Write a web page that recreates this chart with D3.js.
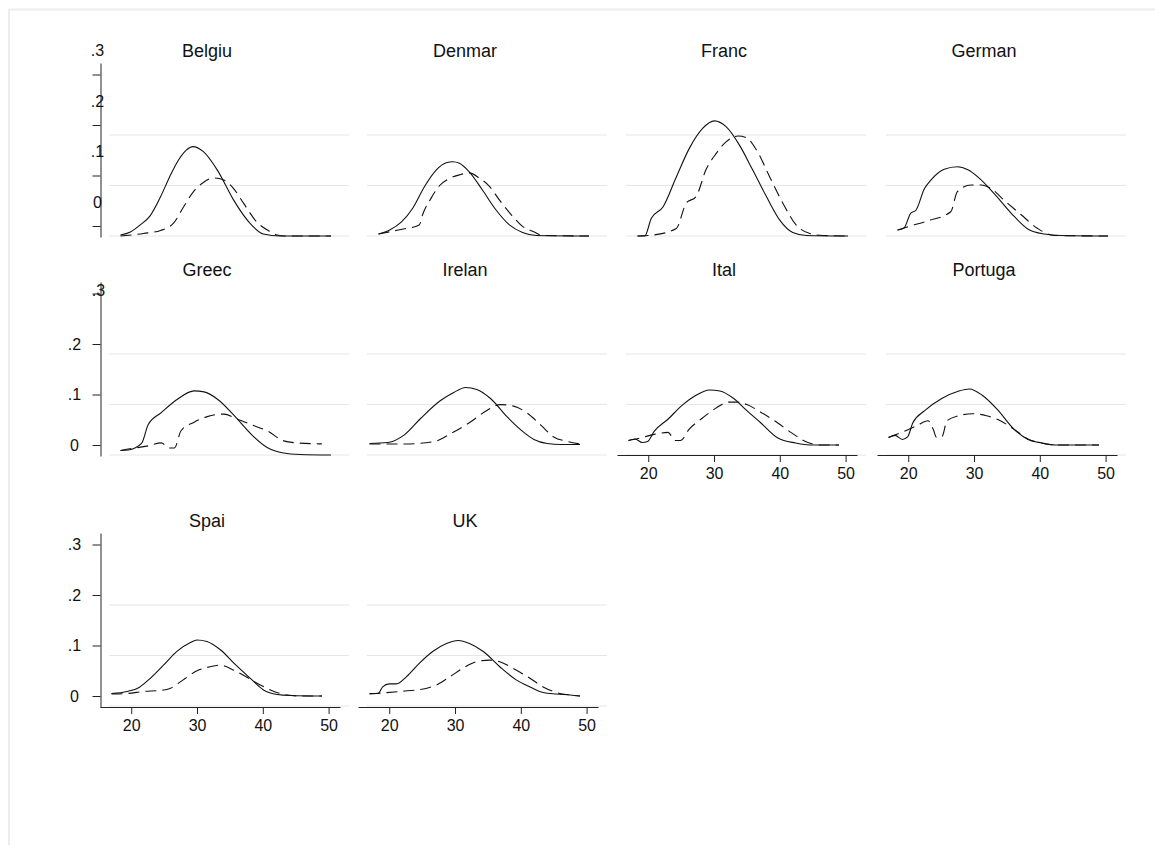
<!DOCTYPE html>
<html>
<head>
<meta charset="utf-8">
<script src="https://cdn.jsdelivr.net/npm/d3@7"></script>
<style>
  body { margin: 0; background: #fff; }
  svg { display: block; }
  text { font-family: "Liberation Sans", Arial, sans-serif; fill: #111; }
</style>
</head>
<body>
<svg id="chart"></svg>
<script>
// panel titles (as printed, truncated)
const titles = ["Belgiu", "Denmar", "Franc", "German", "Greec", "Irelan", "Ital", "Portuga", "Spai", "UK"];
const xTickValues = [20, 30, 40, 50];
const yTickValues = [0, 0.1, 0.2, 0.3];
const gridValues = [0, 0.1, 0.2];

// density curves: [age, density]
const beSolid = [[17,.002],[18.5,.008],[20,.022],[21.5,.04],[23.1,.078],[24.5,.118],[25.8,.15],[27,.17],[28,.177],[29.6,.167],[31.7,.131],[34.2,.071],[36.7,.025],[38.7,.004],[41.3,0],[49,0]];
const beDashed = [[17,0],[20.5,.005],[23.1,.011],[25.1,.026],[26.6,.058],[28.1,.088],[29.6,.106],[31.2,.115],[32.7,.111],[34.2,.094],[35.7,.065],[37.7,.028],[39.7,.009],[40.8,.002],[42,0],[49,0]];
const dkSolid = [[17,.004],[18.7,.012],[20.5,.028],[22.2,.055],[24,.098],[25.8,.131],[27.3,.145],[28.3,.147],[29.3,.144],[30.8,.127],[32.8,.091],[34.9,.051],[36.9,.022],[38.9,.007],[41,.001],[49,0]];
const dkDashed = [[17,.004],[20,.012],[23.2,.022],[23.7,.042],[25,.075],[26.3,.1],[27.8,.114],[29.3,.121],[30.8,.125],[32.4,.114],[33.9,.098],[35.4,.071],[37,.045],[39,.018],[40.5,.009],[42,.001],[49,0]];
const frSolid = [[17,0],[18.1,0],[19.1,.035],[20.9,.058],[22.9,.117],[24.9,.174],[26.9,.213],[28.7,.228],[30.5,.216],[32.5,.18],[34.5,.131],[36.6,.078],[38.6,.032],[40.6,.007],[42.7,.001],[49,0]];
const frDashed = [[17,0],[19.4,.002],[22.9,.015],[24.4,.065],[25.9,.078],[27.4,.131],[29,.164],[30.5,.187],[32.3,.198],[33.5,.195],[35.1,.17],[37.1,.117],[39.1,.065],[41.1,.022],[43.2,.005],[45.2,.001],[49,0]];
const deSolid = [[17,.012],[18,.016],[19,.045],[19.8,.051],[21.1,.094],[22.1,.111],[24.1,.132],[26.1,.137],[27.7,.131],[29.2,.117],[31.7,.084],[34.3,.045],[36.8,.014],[39.3,.004],[41.9,.001],[49,0]];
const deDashed = [[17,.012],[19,.02],[21.6,.03],[25.1,.048],[26.1,.088],[28.2,.101],[29.7,.101],[31.2,.094],[33.2,.071],[35.8,.042],[38.3,.015],[40.8,.001],[49,0]];
const grSolid = [[17,.009],[18.2,.01],[20.2,.023],[21.2,.06],[23.2,.084],[25.7,.111],[28.2,.127],[29.7,.125],[31.7,.111],[34.3,.078],[36.8,.042],[39.3,.015],[41.8,.004],[44.3,.001],[49,0]];
const grDashed = [[17,.009],[18.2,.012],[21.2,.018],[23.2,.024],[24.4,.014],[25.2,.014],[26.2,.048],[28.2,.065],[30.2,.076],[32.7,.081],[34.8,.071],[37.3,.058],[39.3,.048],[41.8,.028],[43.8,.024],[47.6,.022]];
const ieSolid = [[17,.003],[19.8,.005],[22.3,.02],[24.8,.053],[27.8,.088],[29.8,.104],[31.6,.114],[33.3,.11],[35.4,.092],[37.9,.056],[40,.03],[42,.011],[44,.003],[46.1,.001],[49,.001]];
const ieDashed = [[17,.002],[22.3,.002],[26.9,.007],[29.4,.023],[32.4,.046],[34.9,.069],[36.9,.08],[38.9,.077],[41,.063],[43,.04],[45,.016],[47.1,.007],[49,.002]];
const itSolid = [[17,.009],[18,.012],[19.1,.005],[19.9,.007],[20.9,.027],[23,.051],[25.1,.078],[27.2,.098],[29.3,.109],[30.9,.107],[33,.092],[35,.068],[37.1,.044],[39.7,.014],[42.4,.004],[45,0],[49,0]];
const itDashed = [[17,.009],[18.8,.014],[20.9,.021],[23,.025],[24.1,.009],[24.9,.009],[26.2,.031],[28.3,.054],[30.3,.073],[32.2,.085],[33.5,.085],[35,.08],[37.1,.065],[39.2,.048],[41.8,.024],[43.9,.007],[46,0],[49,0]];
const ptSolid = [[17,.015],[18,.019],[19.1,.011],[19.9,.016],[20.7,.044],[22.5,.068],[25.1,.092],[27.7,.107],[29.3,.111],[31.3,.098],[33.5,.071],[36.1,.031],[38.2,.011],[40.3,.004],[42.4,0],[49,0]];
const ptDashed = [[17,.015],[19.4,.027],[21.4,.039],[23,.048],[23.8,.031],[24.3,.015],[25.1,.016],[25.9,.048],[27.7,.058],[29.8,.062],[31.9,.058],[34,.048],[36.1,.031],[38.2,.012],[40.3,.004],[42.4,0],[49,0]];
const esSolid = [[17,.005],[19.4,.009],[21.2,.017],[22.9,.035],[24.9,.061],[26.9,.088],[29,.106],[30,.111],[31.5,.108],[33.6,.091],[35.6,.065],[38.1,.035],[40.1,.012],[42.2,.003],[44.2,.001],[49,0]];
const esDashed = [[17,.004],[19.4,.005],[21.9,.009],[24.4,.011],[25.9,.015],[27.9,.032],[30,.05],[32,.058],[33.5,.061],[35.6,.051],[37.6,.037],[39.6,.022],[41.7,.009],[43.7,.002],[45.7,0],[49,0]];
const ukSolid = [[17,.005],[18.3,.005],[19,.018],[20,.024],[21.1,.024],[22.6,.038],[24.6,.065],[26.6,.088],[28.7,.104],[30.5,.11],[32.2,.104],[34.3,.088],[36.8,.058],[39.3,.032],[41.4,.018],[43.4,.007],[45.4,.004],[47.5,.002],[49,0]];
const ukDashed = [[17,.004],[21.6,.009],[25.6,.015],[27.2,.022],[29.2,.038],[31.2,.055],[33.3,.068],[35.3,.071],[36.8,.068],[38.8,.055],[41.4,.035],[43.4,.018],[45.4,.007],[47.5,.002],[49,0]];

const solidSeries = [beSolid, dkSolid, frSolid, deSolid, grSolid, ieSolid, itSolid, ptSolid, esSolid, ukSolid];
const dashedSeries = [beDashed, dkDashed, frDashed, deDashed, grDashed, ieDashed, itDashed, ptDashed, esDashed, ukDashed];

// layout
const width = 1155, height = 845;
const rowBase = [236, 455, 706];       // y of the 0 gridline per row
const colLeft = [109, 367, 626, 886];  // left end of gridlines per column
const gridW = 240;
const pxPerUnit = 505;

// which panels carry axes, and which were drawn off-register
const xAxisPanels = ["Ital", "Portuga", "Spai", "UK"];
const shiftedPanels = ["Belgiu", "Denmar", "Franc", "German", "Greec"];

const svg = d3.select("#chart").attr("width", width).attr("height", height);

svg.append("rect")
    .attr("x", 9).attr("y", 9.5)
    .attr("width", width + 20).attr("height", height + 20)
    .attr("fill", "#fff")
    .attr("stroke", "#ececec")
    .attr("stroke-width", 2);

const fmt = d => d === 0 ? "0" : d3.format(".1f")(d).replace(/^0/, "");

titles.forEach((name, i) => {
    const row = Math.floor(i / 4), col = i % 4;
    const gx0 = colLeft[col], base = rowBase[row];
    const shifted = shiftedPanels.includes(name);
    const g = svg.append("g");

    // scales
    const x = d3.scaleLinear().domain([17, 49]).range([gx0 + 2.5, gx0 + 213]);
    const xCurve = x.copy().range(x.range().map(v => v + (shifted ? 9 : 0)));
    const yGrid = d3.scaleLinear().domain([0, 1]).range([base, base - pxPerUnit]);
    const yTick = d3.scaleLinear().domain([0, 1]).range([base - 10, base - 10 - pxPerUnit]);
    const yCurve = shifted ? yGrid : yTick;

    // gridlines
    g.append("g").selectAll("line")
        .data(gridValues)
        .join("line")
        .attr("x1", gx0).attr("x2", gx0 + gridW)
        .attr("y1", d => yGrid(d)).attr("y2", d => yGrid(d))
        .attr("stroke", "#e6e6e6")
        .attr("stroke-width", 1.2);

    // title
    g.append("text")
        .attr("x", gx0 + gridW / 2 - 22)
        .attr("y", base - 179)
        .attr("text-anchor", "middle")
        .attr("font-size", 18)
        .text(name);

    // curves
    const line = d3.line()
        .x(d => xCurve(d[0]))
        .y(d => yCurve(d[1]))
        .curve(d3.curveMonotoneX);

    g.append("path")
        .datum(dashedSeries[i])
        .attr("fill", "none")
        .attr("stroke", "#111")
        .attr("stroke-width", 1.1)
        .attr("stroke-dasharray", "11,6")
        .attr("d", line);

    g.append("path")
        .datum(solidSeries[i])
        .attr("fill", "none")
        .attr("stroke", "#111")
        .attr("stroke-width", 1.1)
        .attr("d", line);

    // x axis
    if (xAxisPanels.includes(name)) {
        const xa = d3.scaleLinear()
            .domain([x.invert(gx0 - 9), x.invert(gx0 + gridW - 9)])
            .range([gx0 - 9, gx0 + gridW - 9]);
        const ax = g.append("g")
            .attr("transform", `translate(0,${ base + (row === 2 ? 1 : 0) })`)
            .call(d3.axisBottom(xa).tickValues(xTickValues).tickSize(7).tickSizeOuter(0).tickPadding(6));
        ax.selectAll("path, line").attr("stroke", "#222");
        ax.selectAll("text").attr("font-size", 16).attr("fill", "#111")
            .attr("font-family", '"Liberation Sans", Arial, sans-serif');
    }

    // y axis (first column)
    if (col === 0) {
        const ya = d3.scaleLinear()
            .domain([yTick.invert(base + 1), yTick.invert(base - 173)])
            .range([base + 1, base - 173]);
        const ay = g.append("g")
            .attr("transform", `translate(${ gx0 - 8.5 },0)`)
            .call(d3.axisLeft(ya).tickValues(yTickValues).tickSize(8).tickSizeOuter(0).tickFormat(fmt));
        ay.selectAll("path, line").attr("stroke", "#222");
        ay.selectAll("text")
            .attr("font-size", 16).attr("fill", "#111")
            .attr("font-family", '"Liberation Sans", Arial, sans-serif')
            .attr("text-anchor", "middle")
            .attr("x", -26)
            .attr("transform", d => {
                if (row === 0) return "translate(23,-24)";
                if (name === "Greec" && d === 0.3) return "translate(24,-3)";
                return null;
            });
    }
});
</script>
</body>
</html>
